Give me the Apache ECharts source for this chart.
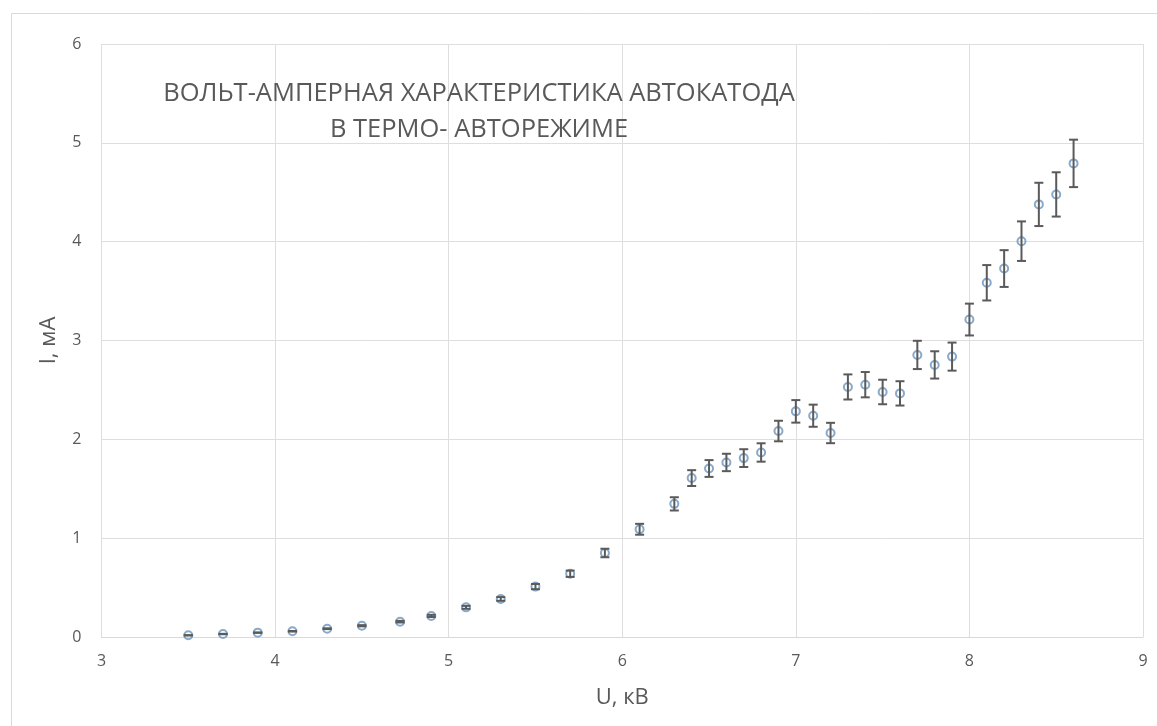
<!DOCTYPE html>
<html>
<head>
<meta charset="utf-8">
<script src="https://cdn.jsdelivr.net/npm/echarts@6/dist/echarts.min.js"></script>
<style>
  html, body { margin: 0; padding: 0; background: #fff; }
  #chart { width: 1157px; height: 726px; }
</style>
</head>
<body>
<div id="chart"></div>
<script>
// Data
const voltage = [3.5, 3.7, 3.9, 4.1, 4.3, 4.5, 4.72, 4.9, 5.1, 5.3, 5.5, 5.7, 5.9, 6.1,
  6.3, 6.4, 6.5, 6.6, 6.7, 6.8, 6.9, 7.0, 7.1, 7.2, 7.3, 7.4, 7.5, 7.6, 7.7, 7.8, 7.9,
  8.0, 8.1, 8.2, 8.3, 8.4, 8.5, 8.6];
const current = [0.017, 0.03, 0.044, 0.058, 0.084, 0.114, 0.155, 0.213, 0.30, 0.385, 0.51, 0.64, 0.85, 1.09,
  1.347, 1.608, 1.705, 1.766, 1.81, 1.867, 2.084, 2.283, 2.239, 2.064, 2.53, 2.553, 2.479, 2.465,
  2.854, 2.753, 2.837, 3.212, 3.584, 3.728, 4.005, 4.377, 4.478, 4.792];
const errors = [0.001, 0.002, 0.002, 0.003, 0.004, 0.006, 0.008, 0.011, 0.015, 0.019, 0.026, 0.032, 0.043, 0.055,
  0.067, 0.08, 0.085, 0.088, 0.09, 0.093, 0.104, 0.114, 0.112, 0.103, 0.127, 0.128, 0.124, 0.123,
  0.143, 0.138, 0.142, 0.161, 0.179, 0.186, 0.2, 0.219, 0.224, 0.24];
const xTicks = [3, 4, 5, 6, 7, 8, 9];
const yTicks = [0, 1, 2, 3, 4, 5, 6];
const titleLines = ['ВОЛЬТ-АМПЕРНАЯ ХАРАКТЕРИСТИКА АВТОКАТОДА', 'В ТЕРМО- АВТОРЕЖИМЕ'];
const xName = 'U, кВ';
const yName = 'I, мА';

const pts = voltage.map((u, i) => [u, current[i]]);
const errPts = voltage.map((u, i) => [u, current[i], errors[i]]);

const FONT = '"Open Sans", "Noto Sans", sans-serif';
const chart = echarts.init(document.getElementById('chart'), null, { renderer: 'canvas' });

chart.setOption({
  animation: false,
  backgroundColor: '#fff',
  textStyle: { fontFamily: FONT },
  grid: { left: 101.5, right: 14, top: 44, bottom: 89, containLabel: false },
  graphic: [
    {
      type: 'rect', left: 9, top: 11, z: -10, silent: true,
      shape: { x: 0, y: 0, width: 1170, height: 740 },
      style: { fill: 'none', stroke: '#d9d9d9', lineWidth: 1 }
    },
    {
      type: 'text', x: 479, y: 76, z: 10,
      style: {
        text: titleLines.join('\n'), fill: '#595959',
        font: '25.5px ' + FONT, textAlign: 'center', lineHeight: 36
      }
    }
  ],
  xAxis: {
    type: 'value', min: xTicks[0], max: xTicks[xTicks.length - 1], interval: 1,
    name: xName, nameLocation: 'middle', nameGap: 50,
    nameTextStyle: { fontSize: 22, color: '#595959', fontFamily: FONT },
    axisLine: { show: true, onZero: false, lineStyle: { color: '#d9d9d9', width: 1 } },
    axisTick: { show: false },
    axisLabel: { fontSize: 16, color: '#595959', margin: 16, fontFamily: FONT },
    splitLine: { show: true, lineStyle: { color: '#dedede', width: 1 } }
  },
  yAxis: {
    type: 'value', min: yTicks[0], max: yTicks[yTicks.length - 1], interval: 1,
    name: yName, nameLocation: 'middle', nameGap: 42, nameRotate: 90,
    nameTextStyle: { fontSize: 22, color: '#595959', fontFamily: FONT },
    axisLine: { show: false },
    axisTick: { show: false },
    axisLabel: { fontSize: 16, color: '#595959', margin: 20, fontFamily: FONT },
    splitLine: { show: true, lineStyle: { color: '#dedede', width: 1 } }
  },
  series: [
    {
      type: 'scatter', data: pts, symbol: 'circle', symbolSize: 8, z: 3,
      itemStyle: { color: 'rgba(255,255,255,0)', borderColor: '#6a93bc', borderWidth: 2 }
    },
    {
      type: 'custom', data: errPts, z: 4, clip: false,
      renderItem: function (params, api) {
        const x = api.value(0), y = api.value(1), e = api.value(2);
        const top = api.coord([x, y + e]);
        const bot = api.coord([x, y - e]);
        const hw = 4.5;
        const st = { stroke: '#5a5a5a', lineWidth: 2 };
        return {
          type: 'group',
          children: [
            { type: 'line', shape: { x1: top[0], y1: top[1], x2: bot[0], y2: bot[1] }, style: st },
            { type: 'line', shape: { x1: top[0] - hw, y1: top[1], x2: top[0] + hw, y2: top[1] }, style: st },
            { type: 'line', shape: { x1: bot[0] - hw, y1: bot[1], x2: bot[0] + hw, y2: bot[1] }, style: st }
          ]
        };
      }
    }
  ]
});
</script>
</body>
</html>
